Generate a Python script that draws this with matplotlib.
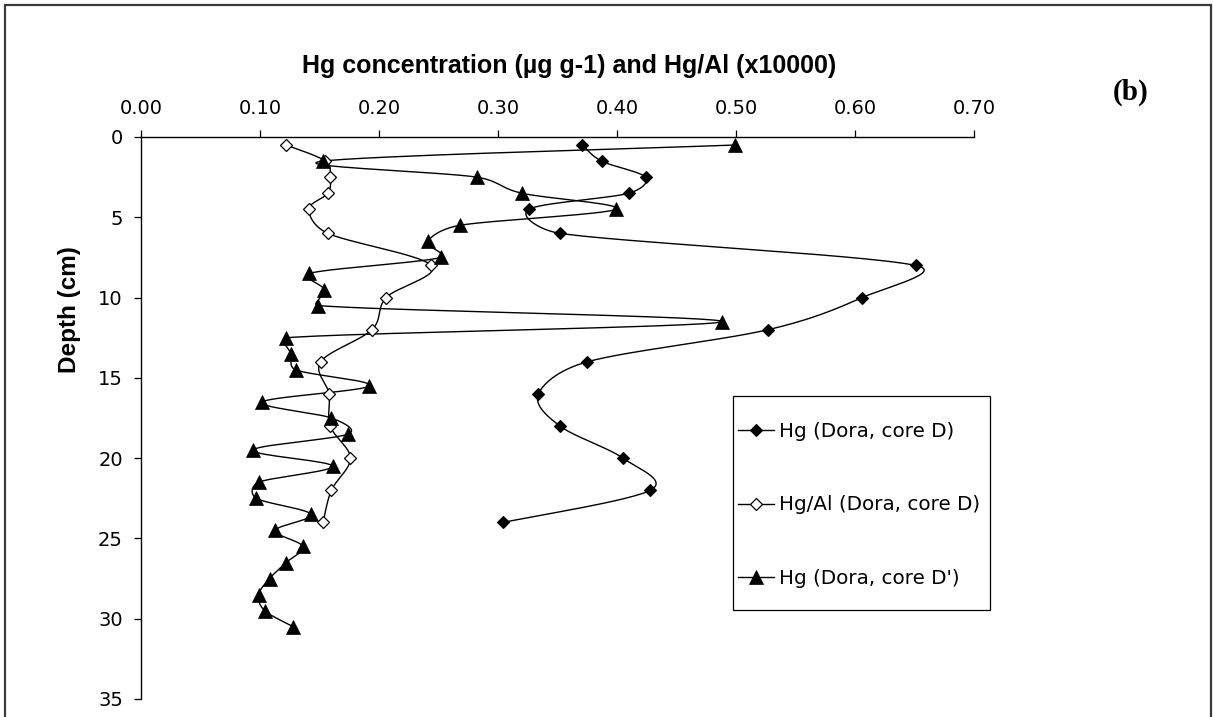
import numpy as np
import matplotlib
matplotlib.use('Agg')
import matplotlib.pyplot as plt
from matplotlib.patches import Rectangle
from matplotlib.lines import Line2D

# ---------------- data ----------------
depth_D = [0.5, 1.5, 2.5, 3.5, 4.5, 6, 8, 10, 12, 14, 16, 18, 20, 22, 24]
hg_D = [0.371, 0.387, 0.424, 0.410, 0.326, 0.352, 0.651, 0.606, 0.527,
        0.375, 0.334, 0.352, 0.405, 0.428, 0.304]
hgal_D = [0.122, 0.155, 0.159, 0.157, 0.141, 0.157, 0.244, 0.206, 0.194,
          0.151, 0.158, 0.159, 0.176, 0.160, 0.153]

depth_Dp = [0.5, 1.5, 2.5, 3.5, 4.5, 5.5, 6.5, 7.5, 8.5, 9.5, 10.5, 11.5,
            12.5, 13.5, 14.5, 15.5, 16.5, 17.5, 18.5, 19.5, 20.5, 21.5,
            22.5, 23.5, 24.5, 25.5, 26.5, 27.5, 28.5, 29.5, 30.5]
hg_Dp = [0.499, 0.153, 0.282, 0.320, 0.399, 0.268, 0.241, 0.252, 0.141,
         0.154, 0.149, 0.488, 0.122, 0.126, 0.130, 0.192, 0.102, 0.160,
         0.174, 0.094, 0.161, 0.099, 0.097, 0.143, 0.113, 0.136, 0.122,
         0.108, 0.099, 0.104, 0.128]

x_ticks = [0.0, 0.1, 0.2, 0.3, 0.4, 0.5, 0.6, 0.7]
x_ticklabels = ['0.00', '0.10', '0.20', '0.30', '0.40', '0.50', '0.60', '0.70']
y_ticks = [0, 5, 10, 15, 20, 25, 30, 35]

labels = ['Hg (Dora, core D)', 'Hg/Al (Dora, core D)', "Hg (Dora, core D')"]
title = 'Hg concentration (\u00b5g g-1) and Hg/Al (x10000)'
ylabel = 'Depth (cm)'
panel = '(b)'


def smooth_display(ax, x, y, k=0.5, n=30):
    """Spreadsheet-like smoothed line: Catmull-Rom Bezier segments computed
    in screen space, each control arm clamped to a fraction of its adjacent
    chord so short segments do not overshoot; mapped back to data coords."""
    pts = ax.transData.transform(np.column_stack([x, y]).astype(float))
    m = len(pts)
    out = [pts[0]]
    t = np.linspace(0, 1, n + 1)[1:, None]

    def clamp(vec, chord):
        L = np.linalg.norm(vec)
        lim = k * chord
        if L > lim and L > 0:
            return vec * (lim / L)
        return vec

    for i in range(m - 1):
        p1, p2 = pts[i], pts[i + 1]
        p0 = pts[i - 1] if i > 0 else p1
        p3 = pts[i + 2] if i + 2 < m else p2
        chord = np.linalg.norm(p2 - p1)
        c1 = p1 + clamp((p2 - p0) / 6.0, chord)
        c2 = p2 - clamp((p3 - p1) / 6.0, chord)
        seg = ((1 - t) ** 3) * p1 + 3 * ((1 - t) ** 2) * t * c1 \
            + 3 * (1 - t) * t ** 2 * c2 + t ** 3 * p2
        out.extend(seg)
    out = np.array(out)
    return ax.transData.inverted().transform(out)


plt.rcParams['font.family'] = ['DejaVu Sans']
bold_family = ['Liberation Sans', 'DejaVu Sans']

W, H = 1213, 717
fig = plt.figure(figsize=(W / 100, H / 100), dpi=100)
fig.patch.set_facecolor('white')

ax = fig.add_axes([141 / W, 1 - 699 / H, (974 - 141) / W, (699 - 137) / H])
ax.set_xlim(0, 0.7)
ax.set_ylim(35, 0)

styles = [
    dict(marker='D', ms=6.2, mfc='black', mec='black', mew=0.8),
    dict(marker='D', ms=6.2, mfc='white', mec='black', mew=0.9),
    dict(marker='^', ms=10, mfc='black', mec='black', mew=0.5),
]
series = [(hg_D, depth_D), (hgal_D, depth_D), (hg_Dp, depth_Dp)]

for (xv, yv), st in zip(series, styles):
    sm = smooth_display(ax, xv, yv)
    ax.plot(sm[:, 0], sm[:, 1], color='black', lw=1.0, zorder=2,
            solid_capstyle='round', clip_on=False)
    ax.plot(xv, yv, ls='none', zorder=3, clip_on=False, **st)

ax.set_xlim(0, 0.7)
ax.set_ylim(35, 0)
ax.xaxis.tick_top()
ax.set_xticks(x_ticks)
ax.set_xticklabels(x_ticklabels)
ax.set_yticks(y_ticks)
ax.set_yticklabels([str(v) for v in y_ticks])
ax.tick_params(axis='x', direction='out', length=5, width=0.9, pad=9,
               labelsize=14, colors='black')
ax.tick_params(axis='y', direction='out', length=5, width=0.9, pad=8,
               labelsize=14, colors='black')
for s in ['right', 'bottom']:
    ax.spines[s].set_visible(False)
for s in ['left', 'top']:
    ax.spines[s].set_linewidth(1.0)
    ax.spines[s].set_color('black')
ax.set_facecolor('none')

# titles / labels
fig.text(569 / W, 1 - 73 / H, title, ha='center', va='baseline',
         fontsize=18, fontweight='bold', family=bold_family)
fig.text(69.5 / W, 1 - 310 / H, ylabel, ha='center', va='center',
         rotation=90, fontsize=17.5, fontweight='bold', family=bold_family)
fig.text(1131 / W, 1 - 100 / H, panel, ha='center', va='baseline',
         fontsize=21, fontweight='bold', family=['Liberation Serif', 'DejaVu Serif'])

# legend
handles = [Line2D([], [], color='black', lw=1.0, **st) for st in styles]
leg = fig.legend(handles, labels, loc='center left',
                 bbox_to_anchor=(738 / W, 1 - 505 / H),
                 bbox_transform=fig.transFigure,
                 frameon=False, borderpad=0, borderaxespad=0,
                 handlelength=1.8, handletextpad=0.25, labelspacing=2.76,
                 fontsize=14.3, numpoints=1)
fig.add_artist(Rectangle((733 / W, 1 - 610 / H), (990 - 733) / W, (610 - 396) / H,
                         transform=fig.transFigure, fill=False,
                         edgecolor='black', lw=0.9))

# outer border
fig.add_artist(Rectangle((5 / W, -0.02), (1211 - 5) / W, 1 - 5 / H + 0.02,
                         transform=fig.transFigure, fill=False,
                         edgecolor='#3a3a3a', lw=1.6))

fig.savefig('out.png', dpi=100, facecolor='white')
